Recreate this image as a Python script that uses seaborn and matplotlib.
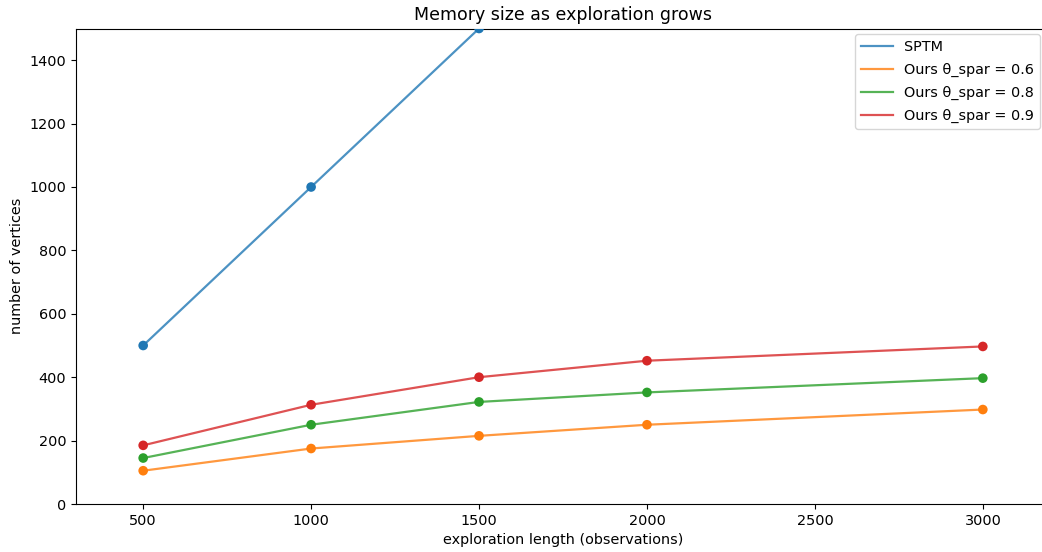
import pandas as pd
import numpy as np
import matplotlib
matplotlib.use("Agg")
import matplotlib.pyplot as plt
import seaborn as sns

# ==========================================================
# DATA
# ==========================================================

steps = [500, 1000, 1500, 2000, 3000]

sptm = [500, 1000, 1500, 2000, 3000]
ours_06 = [105, 175, 215, 250, 298]
ours_08 = [145, 250, 322, 352, 397]
ours_09 = [185, 313, 400, 452, 497]

labels = ["SPTM", "Ours θ_spar = 0.6", "Ours θ_spar = 0.8", "Ours θ_spar = 0.9"]
series = [sptm, ours_06, ours_08, ours_09]

rows = []
for name, values in zip(labels, series):
    for x, y in zip(steps, values):
        rows.append({"method": name, "steps": x, "vertices": y})
df = pd.DataFrame(rows)

colors = ["#1f77b4", "#ff7f0e", "#2ca02c", "#d62728"]
palette = dict(zip(labels, colors))

# ==========================================================
# PLOT
# ==========================================================

plt.rcParams["font.family"] = ["DejaVu Sans"]
plt.rcParams["font.size"] = 10.4

fig = plt.figure(figsize=(10.42, 5.52), dpi=100)
ax = fig.add_axes([76 / 1042, 48 / 552, 974 / 1042, 475.5 / 552])

sns.lineplot(
    data=df, x="steps", y="vertices", hue="method",
    palette=palette, alpha=0.8, linewidth=1.6, ax=ax
)
sns.scatterplot(
    data=df, x="steps", y="vertices", hue="method",
    palette=palette, s=48, linewidth=0, legend=False, ax=ax,
    zorder=3
)

ax.set_xlim(300, 3200)
ax.set_ylim(0, 1500)
ax.set_xticks([500, 1000, 1500, 2000, 2500, 3000])
ax.set_yticks([0, 200, 400, 600, 800, 1000, 1200, 1400])

ax.set_title("Memory size as exploration grows", fontsize=12.5)
ax.set_xlabel("exploration length (observations)")
ax.set_ylabel("number of vertices")

handles, names = ax.get_legend_handles_labels()
ax.legend(
    handles, names, loc="upper right",
    bbox_to_anchor=(1040 / 1042, (552 - 34) / 552),
    bbox_transform=fig.transFigure, borderaxespad=0,
    fontsize=10.4, labelspacing=0.62, handlelength=2.2
)

fig.savefig("out.png", dpi=100)
